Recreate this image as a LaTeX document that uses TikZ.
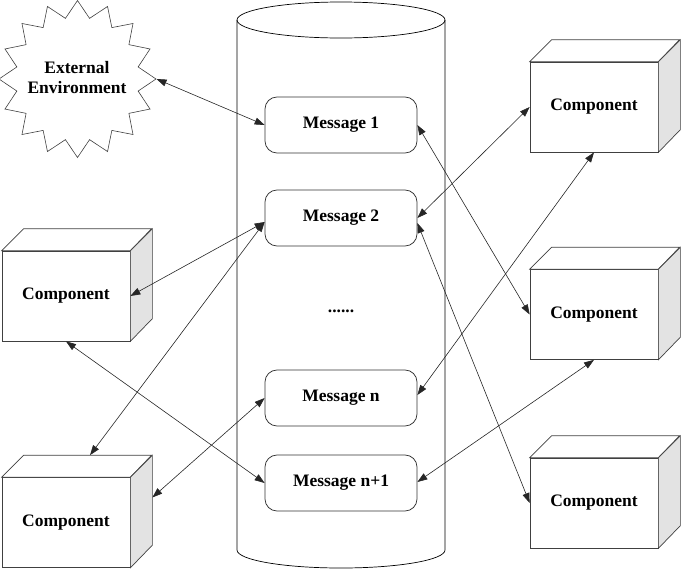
\documentclass[tikz,border=0pt]{standalone}
\usepackage{fontspec}
\setmainfont{Liberation Serif}
\usetikzlibrary{shapes.geometric,arrows.meta,calc}
\tikzset{
  lbl/.style={font=\fontsize{17.5}{20}\selectfont\bfseries},
  msg/.style={lbl,draw=black!80,line width=0.75pt,rounded corners=12pt,minimum width=152pt,minimum height=56pt,inner sep=0pt,fill=white},
  comp/.style={lbl,draw=black!75,line width=0.7pt,minimum width=128pt,minimum height=90pt,inner sep=0pt,fill=white},
  link/.style={line width=0.6pt,black!85,{Triangle[length=10pt,width=7pt]}-{Triangle[length=10pt,width=7pt]}},
}
\begin{document}
\begin{tikzpicture}[x=1pt,y=1pt]
\useasboundingbox (0,0) rectangle (684,-571);
% cylinder
\draw[line width=0.7pt] (237,-20) -- (237,-550) arc[start angle=180,end angle=360,x radius=104,y radius=18] -- (445,-20);
\draw[line width=0.7pt] (341,-20) ellipse [x radius=104, y radius=18];
% external environment
\node[star,star points=16,star point ratio=1.27,minimum size=157pt,inner sep=0pt,draw=black!75,line width=0.6pt] (ext) at (77.5,-79) {};
\node[lbl,align=center] (extlbl) at (77,-78) {External\\Environment};
% messages
\node[msg] (m1) at (341,-125) {Message 1};
\node[msg] (m2) at (341,-218) {Message 2};
\node[lbl] (dots) at (341,-311) {......};
\node[msg] (mn) at (341,-398) {Message n};
\node[msg] (mn1) at (341,-483) {Message n+1};
% components
\node[comp] (rc1) at (594,-107) {Component};
\node[comp] (rc2) at (594,-314.5) {Component};
\node[comp] (rc3) at (594,-503) {Component};
\node[comp] (lc1) at (66,-296) {Component};
\node[comp] (lc2) at (66,-522.5) {Component};
\foreach \c in {rc1,rc2,rc3,lc1,lc2}{
  \draw[draw=black!75,fill=white,line width=0.7pt] (\c.north west) -- ++(22,22) -- ++(128,0) -- (\c.north east) -- cycle;
  \draw[draw=black!75,fill=black!11,line width=0.7pt] (\c.north east) -- ++(22,22) -- ++(0,-90) -- (\c.south east) -- cycle;
}
% connectors
\draw[link] (ext.outer point 13) -- (m1.west);
\draw[link] (m1.east) -- (rc2.west);
\draw[link] (m2.east) -- (rc1.west);
\draw[link] ([yshift=-5pt]m2.east) -- (rc3.west);
\draw[link] ([yshift=3pt]mn.east) -- (rc1.south);
\draw[link] ([yshift=1pt]mn1.east) -- (rc2.south);
\draw[link] ([yshift=-4pt]m2.west) -- (lc1.east);
\draw[link] ([yshift=-4pt]m2.west) -- ($(lc2.north)+(24,22)$);
\draw[link] (lc1.south) -- (mn1.west);
\draw[link] (mn.west) -- ($(lc2.east)+(22,25)$);
\end{tikzpicture}
\end{document}
